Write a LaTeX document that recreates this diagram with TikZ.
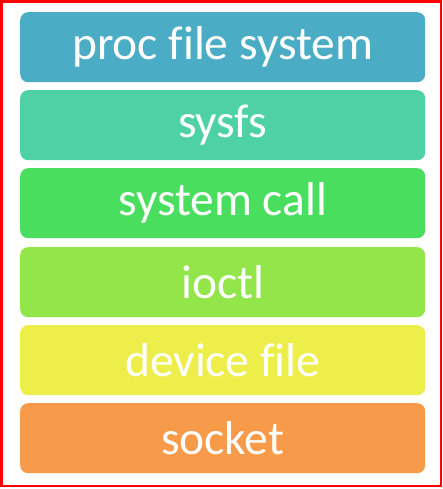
\documentclass[tikz,border=0pt]{standalone}
\usepackage{fontspec}
\setmainfont{Carlito}[Ligatures=NoCommon]
\definecolor{procblue}{HTML}{4BACC6}
\definecolor{sysfsgreen}{HTML}{4DD1A5}
\definecolor{callgreen}{HTML}{4ADE5E}
\definecolor{ioctlgreen}{HTML}{92E64A}
\definecolor{devyellow}{HTML}{EEEE4A}
\definecolor{sockorange}{HTML}{F79A4A}
\begin{document}
\begin{tikzpicture}[x=1pt,y=-1pt,
  layer/.style={rounded corners=8pt, minimum width=405pt, minimum height=70pt,
    inner sep=0pt, text=white, font=\fontsize{47.5}{50}\selectfont, anchor=north west}]
\useasboundingbox (0,0) rectangle (443,489);
\draw[red, line width=2.5pt] (1.5,1.5) rectangle (441,486);
\node[layer, fill=procblue]   (proc)   at (20,12)  {proc file system};
\node[layer, fill=sysfsgreen] (sysfs)  at (20,90)  {sysfs};
\node[layer, fill=callgreen]  (call)   at (20,168) {system call};
\node[layer, fill=ioctlgreen] (ioctl)  at (20,247) {ioctl};
\node[layer, fill=devyellow]  (device) at (20,325) {device file};
\node[layer, fill=sockorange] (socket) at (20,403) {socket};
\end{tikzpicture}
\end{document}
